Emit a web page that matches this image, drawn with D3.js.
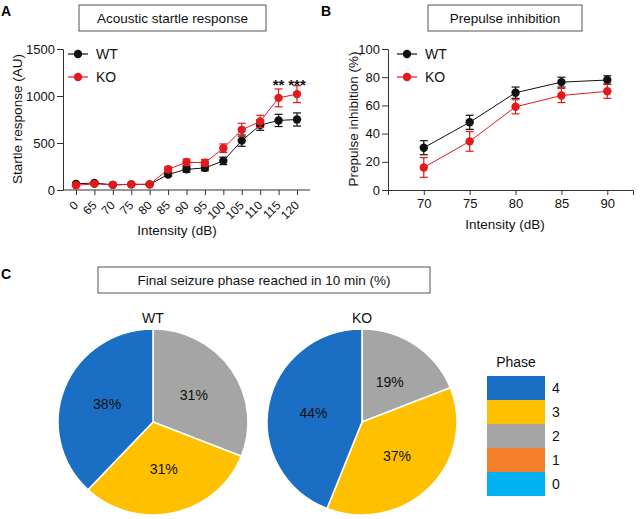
<!DOCTYPE html>
<html><head><meta charset="utf-8">
<script src="https://cdn.jsdelivr.net/npm/d3@7"></script>
<style>body{margin:0;background:#fff}svg{display:block;font-family:Arial,"Liberation Sans",sans-serif}</style>
</head><body>
<svg id="c" width="640" height="519"></svg>
<script>
// ---- Panel A data ----
const intensitiesA = ["0","65","70","75","80","85","90","95","100","105","110","115","120"];
const wtStartle    = [65, 75, 55, 60, 60, 165, 220, 235, 310, 525, 690, 740, 750];
const wtStartleErr = [10, 10, 8, 8, 8, 20, 30, 30, 40, 60, 55, 65, 70];
const koStartle    = [50, 65, 55, 60, 60, 220, 295, 290, 445, 640, 730, 980, 1020];
const koStartleErr = [10, 10, 8, 8, 8, 25, 35, 35, 45, 70, 65, 95, 90];
const starsA = [{cat:"115", txt:"**"}, {cat:"120", txt:"***"}];
const yTicksA = [0, 500, 1000, 1500];
// ---- Panel B data ----
const intensitiesB = [70, 75, 80, 85, 90];
const wtPPI    = [30, 48, 69, 76.5, 78];
const wtPPIErr = [5, 5, 4, 3.5, 3];
const koPPI    = [16, 34.5, 59, 67, 70];
const koPPIErr = [7, 7, 5, 5, 5];
const yTicksB = [0, 20, 40, 60, 80, 100];
// ---- Panel C data ----
const phases = ["4","3","2","1","0"];
const phaseColors = ["#1a6fc4","#ffc000","#a5a5a5","#f47f2a","#00b0f0"];
const pieOrder = ["2","3","4"]; // clockwise from 12 o'clock
const wtSeizure = {"2":31, "3":31, "4":38};
const koSeizure = {"2":19, "3":37, "4":44};

const svg = d3.select("#c");
const RED = "#e3191c", BLK = "#111";
const AX = "#333";

function titleBox(x0, x1, y0, y1, text) {
  svg.append("rect").attr("x", x0).attr("y", y0).attr("width", x1 - x0).attr("height", y1 - y0)
    .attr("fill", "#fff").attr("stroke", "#555").attr("stroke-width", 1);
  svg.append("text").attr("x", (x0 + x1) / 2).attr("y", (y0 + y1) / 2 + 5)
    .attr("text-anchor", "middle").attr("font-size", 13.5).attr("fill", "#111").text(text);
}
function panelLabel(x, y, t) {
  svg.append("text").attr("x", x).attr("y", y).attr("font-size", 14).attr("font-weight", "bold").text(t);
}

function series(g, xs, vals, errs, color) {
  const y = g.y;
  g.sel.append("path").datum(vals)
    .attr("d", d3.line().x((d, i) => xs(i)).y(d => y(d)))
    .attr("fill", "none").attr("stroke", color).attr("stroke-width", 1);
  vals.forEach((v, i) => {
    const x = xs(i);
    const e = errs[i];
    g.sel.append("line").attr("x1", x).attr("x2", x).attr("y1", y(v - e)).attr("y2", y(v + e))
      .attr("stroke", color).attr("stroke-width", 1.2);
    [v - e, v + e].forEach(w => g.sel.append("line").attr("x1", x - 4).attr("x2", x + 4)
      .attr("y1", y(w)).attr("y2", y(w)).attr("stroke", color).attr("stroke-width", 1.2));
    g.sel.append("circle").attr("cx", x).attr("cy", y(v)).attr("r", 4.2).attr("fill", color);
  });
}

function legend(x, y, color, label) {
  svg.append("line").attr("x1", x).attr("x2", x + 20).attr("y1", y).attr("y2", y).attr("stroke", color).attr("stroke-width", 1.2);
  svg.append("circle").attr("cx", x + 10).attr("cy", y).attr("r", 4.2).attr("fill", color);
  svg.append("text").attr("x", x + 28).attr("y", y + 5).attr("font-size", 14).attr("fill", "#111").text(label);
}

function styleAxis(g) {
  g.selectAll("path,line").attr("stroke", AX);
  g.selectAll("text").attr("fill", "#111").attr("font-family", "Arial,'Liberation Sans',sans-serif");
}

// ================= Panel A =================
panelLabel(1, 16, "A");
titleBox(79, 266, 5, 31, "Acoustic startle response");
{
  const yA = d3.scaleLinear().domain([0, 1500]).range([190, 49]);
  const xA = d3.scalePoint().domain(intensitiesA).range([76, 297]);
  const gA = svg.append("g");
  const ya = gA.append("g").attr("transform", "translate(63,0)")
    .call(d3.axisLeft(yA).tickValues(yTicksA).tickSize(6).tickPadding(2).tickFormat(d3.format("d")));
  ya.selectAll("text").attr("font-size", 13);
  styleAxis(ya);
  const xa = gA.append("g").attr("transform", "translate(0,190)")
    .call(d3.axisBottom(xA).tickSize(5).tickFormat(""));
  xa.select(".domain").remove();
  xa.append("line").attr("x1", 63).attr("x2", 310).attr("stroke", AX);
  styleAxis(xa);
  intensitiesA.forEach(c => {
    gA.append("text").attr("transform", `translate(${xA(c)},203) rotate(-45)`)
      .attr("text-anchor", "end").attr("dy", "0.35em").attr("font-size", 12).attr("fill", "#111").text(c);
  });
  const g = {sel: gA, y: yA};
  series(g, i => xA(intensitiesA[i]), wtStartle, wtStartleErr, BLK);
  series(g, i => xA(intensitiesA[i]), koStartle, koStartleErr, RED);
  starsA.forEach(s => gA.append("text").attr("x", xA(s.cat)).attr("y", 90).attr("text-anchor", "middle")
    .attr("font-size", 15).attr("font-weight", "bold").attr("fill", "#111").text(s.txt));
  svg.append("text").attr("transform", "translate(22,119) rotate(-90)").attr("text-anchor", "middle")
    .attr("font-size", 13.5).attr("fill", "#111").text("Startle response (AU)");
  svg.append("text").attr("x", 177).attr("y", 235).attr("text-anchor", "middle")
    .attr("font-size", 13.5).attr("fill", "#111").text("Intensity (dB)");
  legend(68, 54, BLK, "WT");
  legend(68, 77, RED, "KO");
}

// ================= Panel B =================
panelLabel(321, 16, "B");
titleBox(428, 582, 5, 31, "Prepulse inhibition");
{
  const yB = d3.scaleLinear().domain([0, 100]).range([190, 49]);
  const xB = d3.scaleLinear().domain([66.1, 92.8]).range([388, 633]);
  const gB = svg.append("g");
  const yb = gB.append("g").attr("transform", "translate(388,0)")
    .call(d3.axisLeft(yB).tickValues(yTicksB).tickSize(6).tickPadding(2));
  yb.selectAll("text").attr("font-size", 13);
  styleAxis(yb);
  const xb = gB.append("g").attr("transform", "translate(0,190)")
    .call(d3.axisBottom(xB).tickValues(intensitiesB).tickSize(5).tickPadding(4));
  xb.selectAll("text").attr("font-size", 13);
  styleAxis(xb);
  const g = {sel: gB, y: yB};
  series(g, i => xB(intensitiesB[i]), wtPPI, wtPPIErr, BLK);
  series(g, i => xB(intensitiesB[i]), koPPI, koPPIErr, RED);
  svg.append("text").attr("transform", "translate(358,119) rotate(-90)").attr("text-anchor", "middle")
    .attr("font-size", 13.5).attr("fill", "#111").text("Prepulse inhibition (%)");
  svg.append("text").attr("x", 505).attr("y", 229).attr("text-anchor", "middle")
    .attr("font-size", 13.5).attr("fill", "#111").text("Intensity (dB)");
  legend(397, 54, BLK, "WT");
  legend(397, 77, RED, "KO");
}

// ================= Panel C =================
panelLabel(1, 279, "C");
titleBox(98, 430, 267, 293, "Final seizure phase reached in 10 min (%)");
const color = d3.scaleOrdinal().domain(phases).range(phaseColors);
function drawPie(cx, cy, rx, ry, data, name, labelPos) {
  const g = svg.append("g").attr("transform", `translate(${cx},${cy})`);
  const pie = d3.pie().sort(null).value(k => data[k]);
  const arcs = pie(pieOrder);
  const arc = d3.arc().innerRadius(0).outerRadius(rx);
  const inner = g.append("g").attr("transform", `scale(1,${ry / rx})`);
  inner.selectAll("path").data(arcs).join("path").attr("d", arc)
    .attr("fill", d => color(d.data)).attr("stroke", "#fff").attr("stroke-width", 1.6)
    .attr("vector-effect", "non-scaling-stroke");
  const lab = d3.arc().innerRadius(rx * labelPos).outerRadius(rx * labelPos);
  arcs.forEach(d => {
    const c = lab.centroid(d);
    g.append("text").attr("x", c[0]).attr("y", c[1] * ry / rx + 5).attr("text-anchor", "middle")
      .attr("font-size", 14).attr("fill", "#111").text(data[d.data] + "%");
  });
  svg.append("text").attr("x", cx).attr("y", cy - ry - 6).attr("text-anchor", "middle")
    .attr("font-size", 14).attr("fill", "#111").text(name);
}
drawPie(153, 422, 95, 93, wtSeizure, "WT", 0.52);
drawPie(362, 422, 95, 93, koSeizure, "KO", 0.52);

// legend
svg.append("text").attr("x", 516).attr("y", 367).attr("text-anchor", "middle")
  .attr("font-size", 14).attr("fill", "#111").text("Phase");
phases.forEach((p, i) => {
  svg.append("rect").attr("x", 487).attr("y", 376 + i * 24).attr("width", 58).attr("height", 24)
    .attr("fill", color(p));
  svg.append("text").attr("x", 552).attr("y", 376 + i * 24 + 17).attr("font-size", 14)
    .attr("fill", "#111").text(p);
});
</script>
</body></html>
